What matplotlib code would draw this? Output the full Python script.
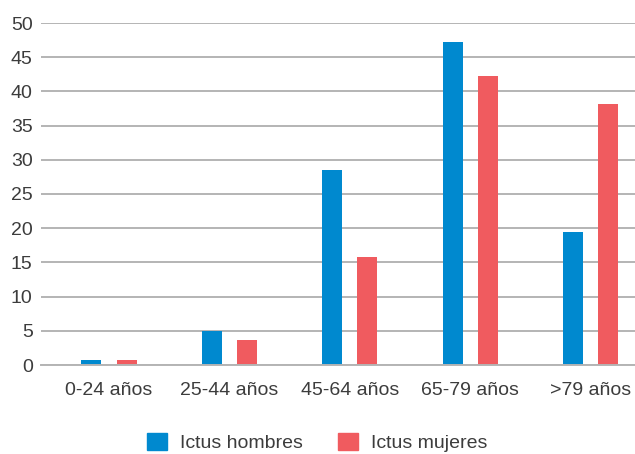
import numpy as np
import matplotlib
matplotlib.use("Agg")
import matplotlib.pyplot as plt
from matplotlib.patches import Patch

# data
categories = ["0-24 años", "25-44 años", "45-64 años", "65-79 años", ">79 años"]
hombres = [0.7, 5.0, 28.5, 47.2, 19.4]
mujeres = [0.7, 3.6, 15.8, 42.3, 38.1]
yticks = [0, 5, 10, 15, 20, 25, 30, 35, 40, 45, 50]

blue = "#0089cf"
red = "#f05b5f"
text_col = "#3c3c3c"

plt.rcParams["font.family"] = ["Liberation Sans", "DejaVu Sans"]

fig = plt.figure(figsize=(6.35, 4.54), dpi=100)
ax = fig.add_axes([41 / 635, (454 - 365) / 454, 1 - 41 / 635, (365 - 23) / 454])

x = np.arange(len(categories))
w = 0.166
off = 0.146
ax.bar(x - off, hombres, width=w, color=blue, zorder=3)
ax.bar(x + off, mujeres, width=w, color=red, zorder=3)

ax.set_xlim(-0.565, 4.37)
ax.set_ylim(0, 50)
ax.set_yticks(yticks)
ax.yaxis.grid(True, color="#b4b4b4", linewidth=1.4, zorder=0)
ax.set_xticks(x)
ax.set_xticklabels(categories)
ax.tick_params(axis="both", length=0, labelsize=14, colors=text_col)
ax.tick_params(axis="x", pad=12)
ax.tick_params(axis="y", pad=6)
for s in ["left", "right", "top"]:
    ax.spines[s].set_visible(False)
ax.spines["bottom"].set_color("#b4b4b4")
ax.spines["bottom"].set_linewidth(1.4)
ax.spines["bottom"].set_zorder(4)

handles = [Patch(color=blue, label="Ictus hombres"), Patch(color=red, label="Ictus mujeres")]
fig.legend(handles=handles, loc="lower center", bbox_to_anchor=(0.5, -0.035), ncol=2,
           frameon=False, fontsize=14, handlelength=1.0, handleheight=1.0,
           handletextpad=0.7, columnspacing=1.8, labelcolor=text_col)

fig.savefig("out.png", dpi=100)
